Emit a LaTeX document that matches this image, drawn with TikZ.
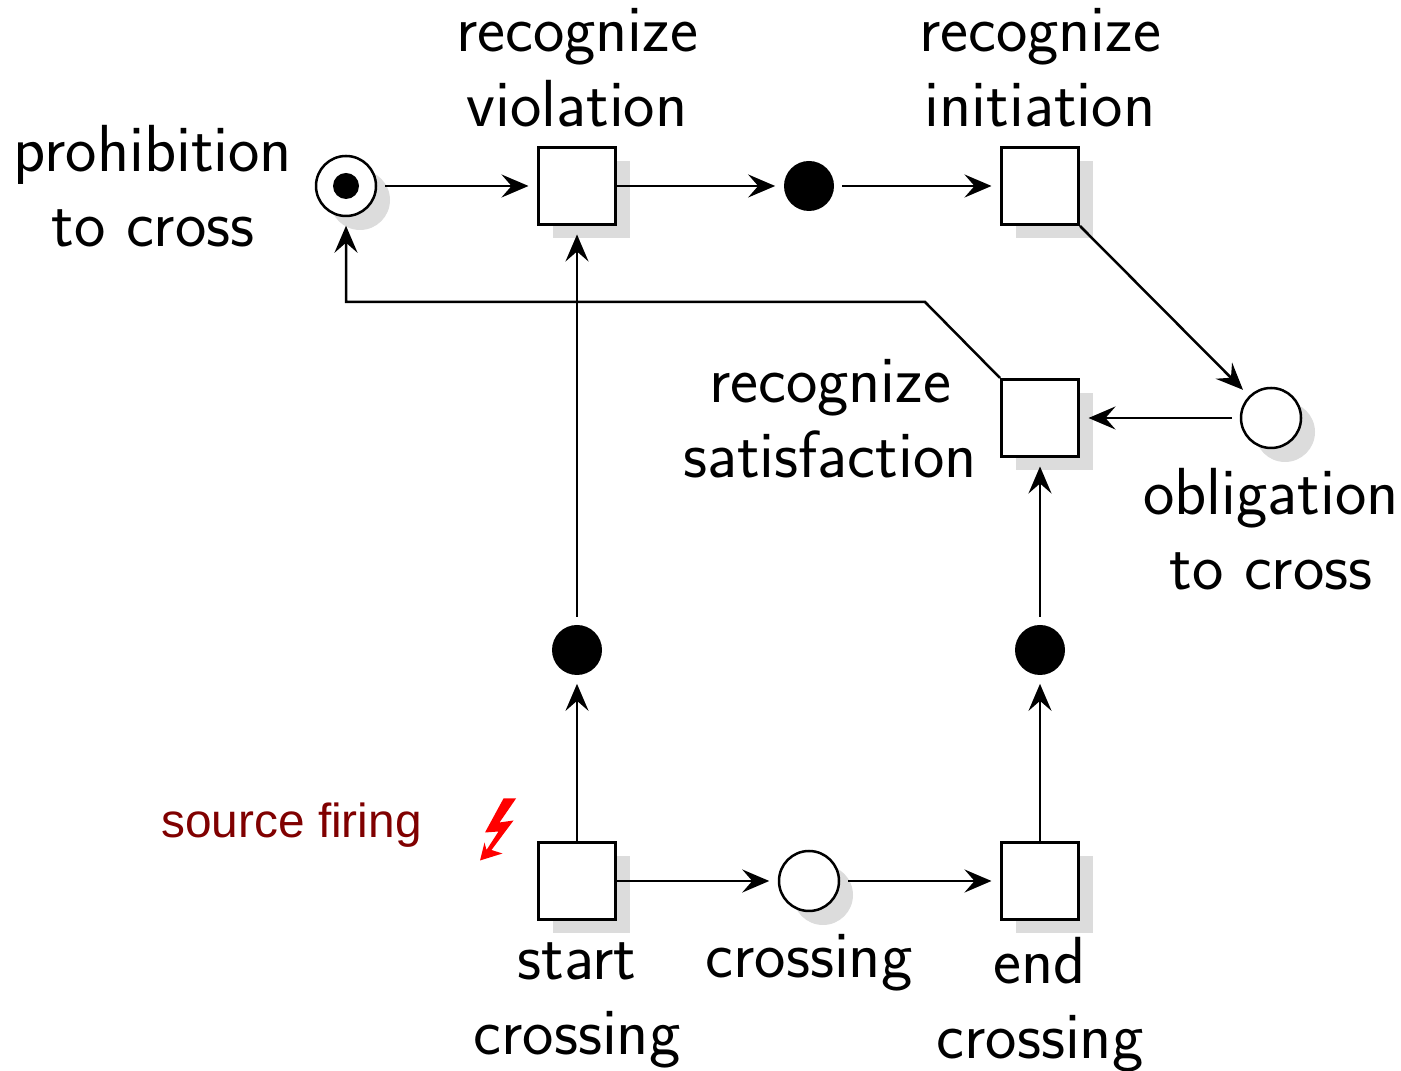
\documentclass[tikz,border=0pt]{standalone}
\usepackage{fontspec}
\usepackage{tikz}
\usetikzlibrary{arrows.meta,shadows}
\newfontfamily\firingfont{Liberation Sans}
\definecolor{firing}{RGB}{128,0,0}
\definecolor{shade}{RGB}{220,220,220}
\tikzset{
  shaded/.style={drop shadow={shadow xshift=.28cm,shadow yshift=-.28cm,fill=shade,opacity=1}},
  transition/.style={draw,fill=white,line width=.06cm,minimum size=1.54cm,inner sep=0pt,shaded},
  place/.style={draw,circle,fill=white,line width=.05cm,minimum size=1.2cm,inner sep=0pt,shaded},
  event/.style={circle,fill=black,minimum size=1cm,inner sep=0pt},
  tokendot/.style={circle,fill=black,minimum size=.52cm,inner sep=0pt},
  arc/.style={-{Stealth[length=.54cm,width=.46cm,inset=.2cm]},line width=.05cm,shorten >=.17cm},
  fromround/.style={shorten <=.16cm},
  caption/.style={align=center,font=\sffamily\fontsize{37.9}{42.6}\selectfont},
}
\begin{document}
\begin{tikzpicture}
   \useasboundingbox (0,0) rectangle (28.02,21.42);

   \node[place] (prohibition) at (6.92,17.70) {};
   \node[tokendot] (token) at (6.92,17.70) {};
   \node[transition] (violation) at (11.54,17.70) {};
   \node[event] (violated) at (16.18,17.70) {};
   \node[transition] (initiation) at (20.80,17.70) {};
   \node[place] (obligation) at (25.42,13.06) {};
   \node[transition] (satisfaction) at (20.80,13.06) {};
   \node[event] (started) at (11.54,8.42) {};
   \node[event] (ended) at (20.80,8.42) {};
   \node[transition] (start) at (11.54,3.80) {};
   \node[place] (crossing) at (16.18,3.80) {};
   \node[transition] (end) at (20.80,3.80) {};

   \coordinate (bend) at (18.50,15.38);
   \coordinate (corner) at (6.92,15.38);

   \draw[arc,fromround] (prohibition) -- (violation);
   \draw[arc] (violation) -- (violated);
   \draw[arc,fromround] (violated) -- (initiation);
   \draw[arc] (initiation.south east) -- (obligation);
   \draw[arc,fromround] (obligation) -- (satisfaction);
   \draw[arc] (satisfaction.north west) -- (bend) -- (corner) -- (prohibition);
   \draw[arc] (start) -- (started);
   \draw[arc,fromround] (started) -- (violation);
   \draw[arc] (start) -- (crossing);
   \draw[arc,fromround] (crossing) -- (end);
   \draw[arc] (end) -- (ended);
   \draw[arc,fromround] (ended) -- (satisfaction);

   \node[caption] (prohibitionlabel) at (3.06,17.69) {prohibition\\to cross};
   \node[caption] (violationlabel) at (11.54,20.06) {recognize\\violation};
   \node[caption] (initiationlabel) at (20.80,20.06) {recognize\\initiation};
   \node[caption] (satisfactionlabel) at (16.60,13.05) {recognize\\satisfaction};
   \node[caption] (obligationlabel) at (25.42,10.83) {obligation\\to cross};
   \node[caption] (startlabel) at (11.54,1.32) {start\\crossing};
   \node[caption] (crossinglabel) at (16.18,2.16) {crossing};
   \node[caption] (endlabel) at (20.80,1.33) {end\\crossing};
   \node[text=firing,font=\firingfont\fontsize{27.2}{32}\selectfont] (firinglabel) at (5.83,4.91) {source firing};

   % lightning
   \fill[red] (10.07,5.45) -- (10.32,5.45) -- (9.99,4.97) -- (10.27,5.01) -- (9.83,4.42)
      -- (10.05,4.35) -- (9.60,4.21) -- (9.69,4.57) -- (9.73,4.42) -- (9.97,4.79)
      -- (9.70,4.77) -- cycle;
\end{tikzpicture}
\end{document}
